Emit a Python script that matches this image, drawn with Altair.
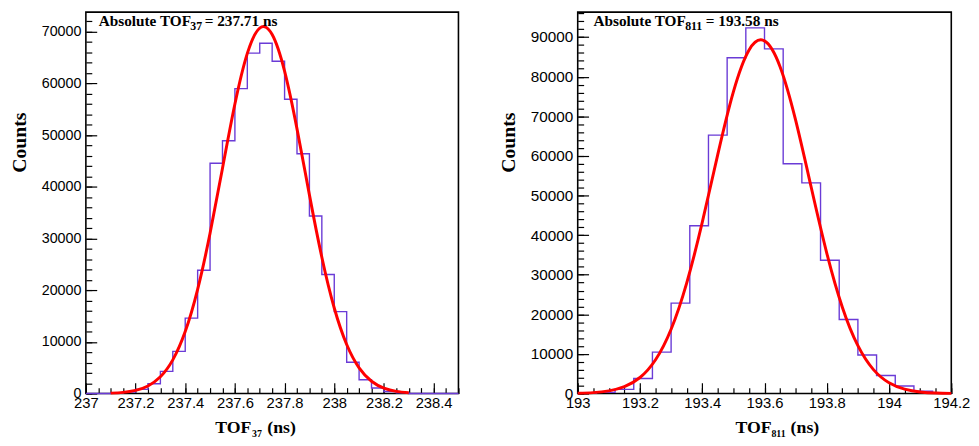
import altair as alt
import pandas as pd

# ---------------- data ----------------
# Left panel: TOF_37 histogram, bins of 0.05 ns from 237.0 to 238.5
left_bin_start = 237.0
left_bin_width = 0.05
left_counts = [0, 0, 100, 300, 800, 1900, 4300, 8150, 14600, 23850,
               44550, 48900, 59000, 65860, 67770, 64280, 56950, 46400, 34360, 23040,
               15850, 6050, 2670, 1080, 400, 150, 0, 0, 0, 0]
# Gaussian fit curve
left_fit_x = [237.10, 237.15, 237.20, 237.25, 237.30, 237.35, 237.40, 237.45, 237.50,
              237.55, 237.60, 237.65, 237.70, 237.75, 237.80, 237.85, 237.90, 237.95,
              238.00, 238.05, 238.10, 238.15, 238.20, 238.25, 238.30]
left_fit_y = [80, 232, 611, 1471, 3238, 6516, 11985, 20157, 31000, 43580, 56012, 65817,
              70714, 69458, 62374, 51212, 38439, 26377, 16550, 9493, 4979, 2387, 1047, 419, 154]

# Right panel: TOF_811 histogram, bins of 0.06 ns from 193.0 to 194.2
right_bin_start = 193.0
right_bin_width = 0.06
right_counts = [100, 300, 1070, 3810, 10470, 22840, 42380, 65230, 84760, 92320,
                87010, 58000, 53180, 33660, 18700, 9720, 4560, 1900, 570, 150]
right_fit_x = [193.00, 193.05, 193.10, 193.15, 193.20, 193.25, 193.30, 193.35, 193.40,
               193.45, 193.50, 193.55, 193.60, 193.65, 193.70, 193.75, 193.80, 193.85,
               193.90, 193.95, 194.00, 194.05, 194.10, 194.15, 194.20]
right_fit_y = [73, 233, 670, 1733, 4052, 8541, 16245, 27890, 43200, 60390, 76170, 86690,
               89040, 82520, 69010, 52080, 35470, 21800, 12085, 6048, 2731, 1113, 409, 136, 41]

# axis ticks
left_x_major = [237.0, 237.2, 237.4, 237.6, 237.8, 238.0, 238.2, 238.4]
right_x_major = [193.0, 193.2, 193.4, 193.6, 193.8, 194.0, 194.2]
left_y_major = [0, 10000, 20000, 30000, 40000, 50000, 60000, 70000]
right_y_major = [0, 10000, 20000, 30000, 40000, 50000, 60000, 70000, 80000, 90000]

PURPLE = "#6a3bd6"
RED = "#ff0000"


def hist_frame(start, width, counts):
    edges = [round(start + i * width, 4) for i in range(len(counts) + 1)]
    vals = list(counts) + [counts[-1]]
    return pd.DataFrame({"edge": edges, "count": vals})


def minor_values(lo, hi, step):
    n = int(round((hi - lo) / step))
    return [round(lo + i * step, 4) for i in range(n + 1)]


def text_layer(txt, x, y, size):
    return alt.Chart(pd.DataFrame({"t": [txt]})).mark_text(
        font="Liberation Serif", fontWeight="bold", fontSize=size,
        align="left", baseline="alphabetic", color="black"
    ).encode(x=alt.value(x), y=alt.value(y), text="t:N")


def panel(hist_df, fit_df, xdom, ydom, x_major, y_major, x_minor, y_minor,
          header, footer, w, h, ylab_size):
    xs = alt.Scale(domain=xdom, nice=False, zero=False)
    ys = alt.Scale(domain=ydom, nice=False)
    common = dict(domain=False, grid=False, tickColor="black", tickWidth=1.2)
    hist = alt.Chart(hist_df).mark_line(
        interpolate="step-after", color=PURPLE, strokeWidth=1.4
    ).encode(
        x=alt.X("edge:Q", scale=xs, axis=alt.Axis(
            orient="bottom", values=x_major, format="~g", offset=-11, tickSize=11,
            labelFont="Liberation Sans", labelFontSize=15, labelColor="black",
            labelPadding=2, labelOverlap=False, labelFlush=False, title=None, **common)),
        y=alt.Y("count:Q", scale=ys, axis=alt.Axis(
            orient="left", values=y_major, format="d", offset=-11, tickSize=11,
            labelFont="Liberation Sans", labelFontSize=ylab_size, labelColor="black",
            labelPadding=5, labelOverlap=False, labelFlush=False,
            title="Counts", titleFont="Liberation Serif", titleFontSize=20,
            titleFontWeight="bold", titleColor="black", titlePadding=12,
            titleY=132, **common)),
    )
    fit = alt.Chart(fit_df).mark_line(
        interpolate="natural", color=RED, strokeWidth=3
    ).encode(
        x=alt.X("x:Q", scale=xs, axis=alt.Axis(
            orient="bottom", values=x_minor, labels=False, offset=-6, tickSize=6,
            title=None, **common)),
        y=alt.Y("y:Q", scale=ys, axis=alt.Axis(
            orient="left", values=y_minor, labels=False, offset=-6, tickSize=6,
            title=None, **common)),
    )
    layers = [hist, fit]
    for (txt, x, y, size) in header + footer:
        layers.append(text_layer(txt, x, y, size))
    return alt.layer(*layers).resolve_axis(x="independent", y="independent").properties(
        width=w, height=h)


left = panel(
    hist_frame(left_bin_start, left_bin_width, left_counts),
    pd.DataFrame({"x": left_fit_x, "y": left_fit_y}),
    [237.0, 238.5], [0, 73800], left_x_major, left_y_major,
    minor_values(237.0, 238.5, 0.05), minor_values(0, 72000, 2000),
    [("Absolute TOF", 13, 14, 15.5), ("37", 106, 18, 12), ("= 237.71 ns", 120.5, 14, 15.5)],
    [("TOF", 131.3, 427, 18), ("37", 168.5, 431, 10), ("(ns)", 184, 427, 18)],
    378, 387, 14.5,
)

right = panel(
    hist_frame(right_bin_start, right_bin_width, right_counts),
    pd.DataFrame({"x": right_fit_x, "y": right_fit_y}),
    [193.0, 194.2], [0, 96300], right_x_major, right_y_major,
    minor_values(193.0, 194.2, 0.05), minor_values(0, 96000, 2000),
    [("Absolute TOF", 16, 14, 15.5), ("811", 109, 18, 12), ("= 193.58 ns", 130, 14, 15.5)],
    [("TOF", 160, 427, 18), ("811", 196.5, 431, 10), ("(ns)", 216, 427, 18)],
    379, 387, 15.5,
)

chart = alt.hconcat(left, right, spacing=36).properties(
    padding=0, background="white"
).configure_view(stroke="black", strokeWidth=1.6)

chart.save("out.html", embed_options={"renderer": "svg", "actions": False})
